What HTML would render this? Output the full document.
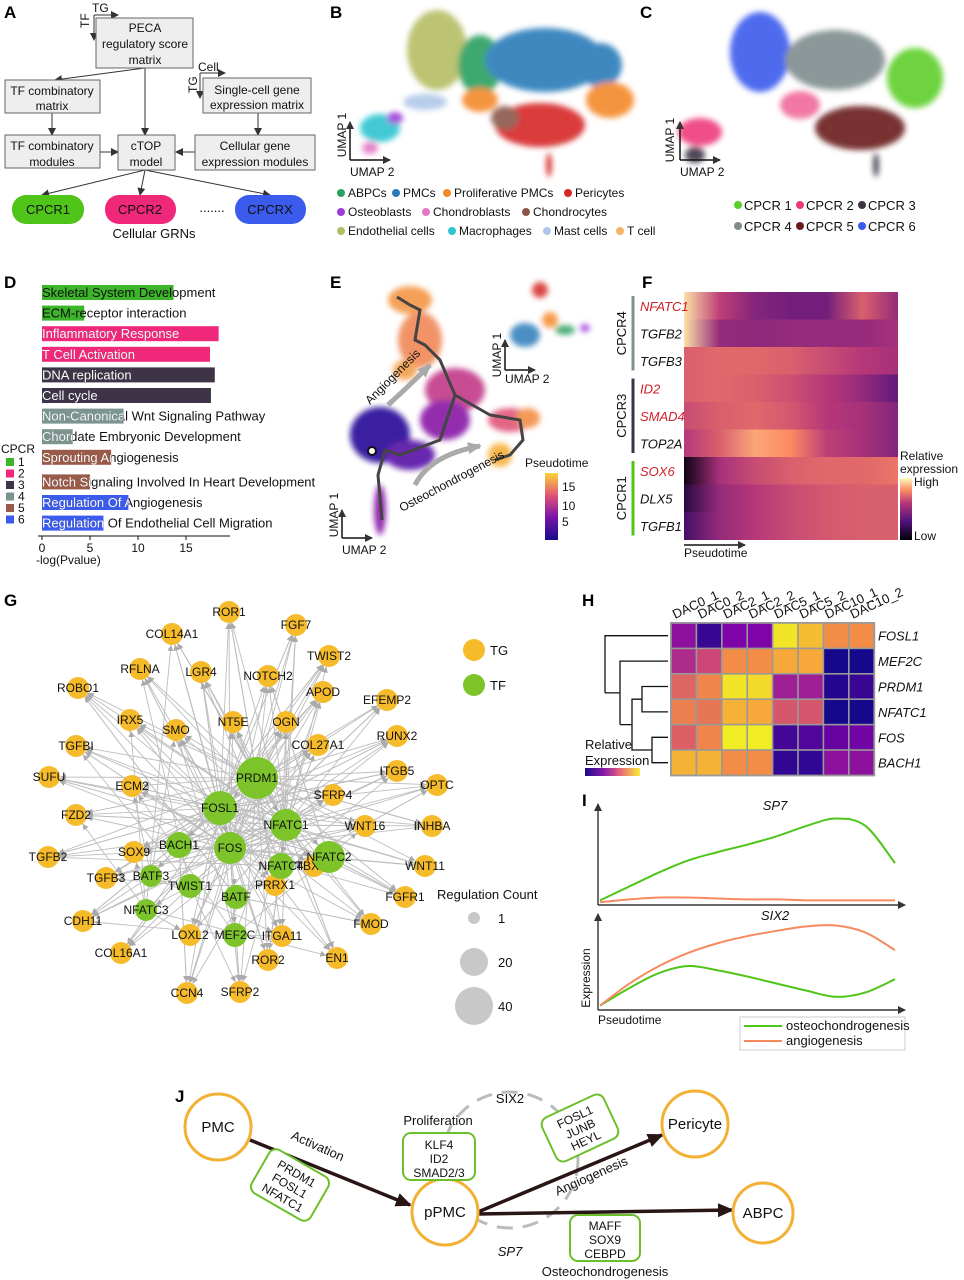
<!DOCTYPE html>
<html><head><meta charset="utf-8">
<style>
html,body{margin:0;padding:0;background:#fff;}
svg{display:block;font-family:"Liberation Sans",Arial,sans-serif;}
.pl{font-weight:bold;font-size:17px;}
.t{font-size:13px;fill:#111;}
.s{font-size:12px;fill:#111;}
</style></head>
<body>
<svg id="fig" width="964" height="1280" viewBox="0 0 964 1280">
<defs>
<marker id="ah" markerWidth="8" markerHeight="8" refX="7" refY="4" orient="auto" markerUnits="userSpaceOnUse"><path d="M0,0 L8,4 L0,8 z" fill="#333"/></marker>
<marker id="ahg" markerWidth="6" markerHeight="6" refX="6" refY="3" orient="auto" markerUnits="userSpaceOnUse"><path d="M0,0 L6,3 L0,6 z" fill="#aaa"/></marker>
<marker id="ahb" markerWidth="16" markerHeight="14" refX="14" refY="7" orient="auto" markerUnits="userSpaceOnUse"><path d="M0,0 L16,7 L0,14 z" fill="#2a1515"/></marker>
<marker id="ahgr" markerWidth="14" markerHeight="12" refX="12" refY="6" orient="auto" markerUnits="userSpaceOnUse"><path d="M0,0 L14,6 L0,12 z" fill="#aaa"/></marker>
<linearGradient id="ptGrad" x1="0" y1="1" x2="0" y2="0"><stop offset="0" stop-color="#1a0a8c"/><stop offset="0.35" stop-color="#7b16a8"/><stop offset="0.65" stop-color="#de4f78"/><stop offset="1" stop-color="#fbd33a"/></linearGradient>
<linearGradient id="magGrad" x1="0" y1="1" x2="0" y2="0"><stop offset="0" stop-color="#000004"/><stop offset="0.3" stop-color="#51127c"/><stop offset="0.6" stop-color="#b73779"/><stop offset="0.8" stop-color="#fc8961"/><stop offset="1" stop-color="#fcfdbf"/></linearGradient>
<linearGradient id="plasGrad" x1="0" y1="0" x2="1" y2="0"><stop offset="0" stop-color="#1a0a8c"/><stop offset="0.35" stop-color="#8a1aa8"/><stop offset="0.65" stop-color="#e8687a"/><stop offset="1" stop-color="#f7f03a"/></linearGradient>
<filter id="blur"><feGaussianBlur stdDeviation="3"/></filter>
</defs>

<!-- ===== Panel A ===== -->
<g>
<text class="pl" x="4" y="18">A</text>
<g stroke="#333" fill="none" stroke-width="1">
<line x1="94" y1="15" x2="118" y2="15" marker-end="url(#ah)"/><line x1="94" y1="15" x2="94" y2="40" marker-end="url(#ah)"/>
<line x1="200" y1="73" x2="225" y2="73" marker-end="url(#ah)"/><line x1="200" y1="73" x2="200" y2="98" marker-end="url(#ah)"/>
<line x1="145" y1="68" x2="55" y2="80" marker-end="url(#ah)"/>
<line x1="145" y1="68" x2="145" y2="135" marker-end="url(#ah)"/>
<line x1="52" y1="113" x2="52" y2="135" marker-end="url(#ah)"/>
<line x1="258" y1="113" x2="258" y2="135" marker-end="url(#ah)"/>
<line x1="100" y1="152" x2="118" y2="152" marker-end="url(#ah)"/>
<line x1="195" y1="152" x2="176" y2="152" marker-end="url(#ah)"/>
<line x1="145" y1="170" x2="42" y2="195" marker-end="url(#ah)"/>
<line x1="145" y1="170" x2="140" y2="195" marker-end="url(#ah)"/>
<line x1="145" y1="170" x2="270" y2="195" marker-end="url(#ah)"/>
</g>
<text class="s" x="92" y="12">TG</text><text class="s" transform="translate(89,28) rotate(-90)">TF</text>
<text class="s" x="198" y="71">Cell</text><text class="s" transform="translate(197,93) rotate(-90)">TG</text>
<g fill="#eeeeee" stroke="#666" stroke-width="1">
<rect x="96" y="18" width="97" height="50"/>
<rect x="5" y="80" width="95" height="33"/>
<rect x="203" y="78" width="108" height="35"/>
<rect x="5" y="135" width="95" height="33"/>
<rect x="118" y="135" width="57" height="35"/>
<rect x="195" y="135" width="120" height="35"/>
</g>
<g class="s" text-anchor="middle">
<text x="145" y="32">PECA</text><text x="145" y="48">regulatory score</text><text x="145" y="64">matrix</text>
<text x="52" y="95">TF combinatory</text><text x="52" y="110">matrix</text>
<text x="257" y="94">Single-cell gene</text><text x="257" y="109">expression matrix</text>
<text x="52" y="150">TF combinatory</text><text x="52" y="166">modules</text>
<text x="146" y="150">cTOP</text><text x="146" y="166">model</text>
<text x="255" y="150">Cellular gene</text><text x="255" y="166">expression modules</text>
</g>
<rect x="12" y="195" width="72" height="29" rx="14" fill="#4fc51a"/>
<rect x="105" y="195" width="71" height="29" rx="14" fill="#f0287a"/>
<rect x="235" y="195" width="71" height="29" rx="14" fill="#3b5bed"/>
<g class="t" text-anchor="middle"><text x="48" y="214">CPCR1</text><text x="140" y="214">CPCR2</text><text x="270" y="214">CPCRX</text>
<text x="212" y="212">.......</text><text x="154" y="238">Cellular GRNs</text></g>
</g>

<!-- ===== Panel B ===== -->
<g>
<text class="pl" x="330" y="18">B</text>
<g filter="url(#blur)" opacity="0.9">
<ellipse cx="437" cy="50" rx="30" ry="40" fill="#b5bd64"/>
<ellipse cx="480" cy="65" rx="22" ry="30" fill="#2aa060"/>
<ellipse cx="545" cy="60" rx="60" ry="32" fill="#2b7bb9"/>
<ellipse cx="600" cy="65" rx="22" ry="22" fill="#2b7bb9"/>
<ellipse cx="610" cy="100" rx="24" ry="18" fill="#f5892a"/>
<ellipse cx="480" cy="100" rx="18" ry="12" fill="#f5892a"/>
<ellipse cx="540" cy="125" rx="45" ry="22" fill="#d62728"/>
<ellipse cx="505" cy="118" rx="14" ry="12" fill="#8c564b"/>
<ellipse cx="425" cy="102" rx="22" ry="8" fill="#aec7e8"/>
<ellipse cx="380" cy="128" rx="20" ry="14" fill="#2ec4d0"/>
<ellipse cx="370" cy="148" rx="8" ry="6" fill="#e377c2"/>
<ellipse cx="395" cy="118" rx="8" ry="6" fill="#9b3bd8"/>
<ellipse cx="549" cy="165" rx="3" ry="12" fill="#d62728"/>
</g>
<g stroke="#111" stroke-width="1.5" fill="none"><line x1="350" y1="160" x2="350" y2="122" marker-end="url(#ah)"/><line x1="350" y1="160" x2="390" y2="160" marker-end="url(#ah)"/></g>
<text class="s" transform="translate(346,135) rotate(-90)" text-anchor="middle">UMAP 1</text>
<text class="s" x="350" y="176">UMAP 2</text>
<g class="s">
<circle cx="341" cy="193" r="4" fill="#2aa060"/><text x="348" y="197">ABPCs</text>
<circle cx="396" cy="193" r="4" fill="#2b7bb9"/><text x="403" y="197">PMCs</text>
<circle cx="447" cy="193" r="4" fill="#f5892a"/><text x="454" y="197">Proliferative PMCs</text>
<circle cx="568" cy="193" r="4" fill="#d62728"/><text x="575" y="197">Pericytes</text>
<circle cx="341" cy="212" r="4" fill="#9b3bd8"/><text x="348" y="216">Osteoblasts</text>
<circle cx="426" cy="212" r="4" fill="#e377c2"/><text x="433" y="216">Chondroblasts</text>
<circle cx="526" cy="212" r="4" fill="#8c564b"/><text x="533" y="216">Chondrocytes</text>
<circle cx="341" cy="231" r="4" fill="#b5bd64"/><text x="348" y="235">Endothelial cells</text>
<circle cx="452" cy="231" r="4" fill="#2ec4d0"/><text x="459" y="235">Macrophages</text>
<circle cx="547" cy="231" r="4" fill="#aec7e8"/><text x="554" y="235">Mast cells</text>
<circle cx="620" cy="231" r="4" fill="#f7b26a"/><text x="627" y="235">T cell</text>
</g></g>

<!-- ===== Panel C ===== -->
<g>
<text class="pl" x="640" y="18">C</text>
<g filter="url(#blur)" opacity="0.9">
<ellipse cx="760" cy="52" rx="30" ry="40" fill="#3b5bed"/>
<ellipse cx="835" cy="60" rx="50" ry="30" fill="#7f8c8d"/>
<ellipse cx="915" cy="78" rx="28" ry="30" fill="#5ecf2a"/>
<ellipse cx="860" cy="128" rx="45" ry="22" fill="#6b1a1a"/>
<ellipse cx="800" cy="105" rx="20" ry="14" fill="#f06a9a"/>
<ellipse cx="700" cy="132" rx="22" ry="14" fill="#ee3a7a"/>
<ellipse cx="695" cy="155" rx="10" ry="8" fill="#3d3447"/>
<ellipse cx="876" cy="165" rx="3" ry="12" fill="#3d3447"/>
</g>
<g stroke="#111" stroke-width="1.5" fill="none"><line x1="680" y1="160" x2="680" y2="122" marker-end="url(#ah)"/><line x1="680" y1="160" x2="720" y2="160" marker-end="url(#ah)"/></g>
<text class="s" transform="translate(674,140) rotate(-90)" text-anchor="middle">UMAP 1</text>
<text class="s" x="680" y="176">UMAP 2</text>
<g class="t">
<circle cx="738" cy="205" r="4" fill="#5ecf2a"/><text x="744" y="210">CPCR 1</text>
<circle cx="800" cy="205" r="4" fill="#ee3a7a"/><text x="806" y="210">CPCR 2</text>
<circle cx="862" cy="205" r="4" fill="#3d3447"/><text x="868" y="210">CPCR 3</text>
<circle cx="738" cy="226" r="4" fill="#7f8c8d"/><text x="744" y="231">CPCR 4</text>
<circle cx="800" cy="226" r="4" fill="#6b1a1a"/><text x="806" y="231">CPCR 5</text>
<circle cx="862" cy="226" r="4" fill="#3b5bed"/><text x="868" y="231">CPCR 6</text>
</g></g>

<!-- ===== Panel D ===== -->
<g id="panelD">
<text class="pl" x="4" y="288">D</text>
</g>

<!-- ===== Panel E ===== -->
<g>
<text class="pl" x="330" y="288">E</text>
<g filter="url(#blur)" opacity="0.92">
<ellipse cx="410" cy="300" rx="22" ry="14" fill="#f4994a"/>
<ellipse cx="420" cy="340" rx="22" ry="28" fill="#f08a5a"/>
<ellipse cx="405" cy="370" rx="12" ry="10" fill="#f3a050"/>
<ellipse cx="455" cy="390" rx="30" ry="22" fill="#c33c8a"/>
<ellipse cx="445" cy="420" rx="25" ry="20" fill="#8a1aa8"/>
<ellipse cx="380" cy="435" rx="30" ry="28" fill="#2a0f9a"/>
<ellipse cx="410" cy="455" rx="25" ry="15" fill="#5a12a8"/>
<ellipse cx="510" cy="420" rx="22" ry="12" fill="#e0587a"/>
<ellipse cx="528" cy="418" rx="12" ry="10" fill="#f3904a"/>
<ellipse cx="500" cy="455" rx="12" ry="12" fill="#f7b040"/>
<ellipse cx="380" cy="510" rx="6" ry="25" fill="#8a1aa8"/>
</g>
<path d="M397,297 L410,305 L420,310 L415,340 L425,345 L440,360 L455,395 L490,415 L520,420 L523,440 L510,455 L495,460 M455,395 L440,440 L400,455 L385,450 L378,475 L382,520" fill="none" stroke="#444" stroke-width="3"/>
<circle cx="372" cy="451" r="4" fill="#fff" stroke="#111" stroke-width="2"/>
<path d="M388,405 Q410,385 430,365" fill="none" stroke="#aaa" stroke-width="5" marker-end="url(#ahgr)"/>
<path d="M415,485 Q430,455 480,446" fill="none" stroke="#aaa" stroke-width="5" marker-end="url(#ahgr)"/>
<text class="s" transform="translate(370,405) rotate(-45)">Angiogenesis</text>
<text class="s" transform="translate(402,512) rotate(-28)">Osteochondrogenesis</text>
<g filter="url(#blur)" opacity="0.85"><ellipse cx="540" cy="290" rx="8" ry="8" fill="#d62728"/><ellipse cx="525" cy="335" rx="15" ry="12" fill="#2b7bb9"/><ellipse cx="550" cy="320" rx="8" ry="8" fill="#f5892a"/><ellipse cx="565" cy="330" rx="10" ry="5" fill="#2aa060"/><ellipse cx="585" cy="328" rx="5" ry="4" fill="#9b3bd8"/></g>
<g stroke="#111" stroke-width="1.5" fill="none"><line x1="505" y1="370" x2="505" y2="340" marker-end="url(#ah)"/><line x1="505" y1="370" x2="535" y2="370" marker-end="url(#ah)"/>
<line x1="342" y1="538" x2="342" y2="510" marker-end="url(#ah)"/><line x1="342" y1="538" x2="372" y2="538" marker-end="url(#ah)"/></g>
<text class="s" transform="translate(501,355) rotate(-90)" text-anchor="middle">UMAP 1</text><text class="s" x="505" y="383">UMAP 2</text>
<text class="s" transform="translate(338,515) rotate(-90)" text-anchor="middle">UMAP 1</text><text class="s" x="342" y="554">UMAP 2</text>
<text class="s" x="525" y="467">Pseudotime</text>
<rect x="545" y="473" width="13" height="67" fill="url(#ptGrad)"/>
<g class="s"><text x="562" y="491">15</text><text x="562" y="510">10</text><text x="562" y="526">5</text></g>
</g>

<!-- ===== Panel F ===== -->
<g id="panelF">
<text class="pl" x="642" y="288">F</text>
</g>

<!-- ===== Panel G ===== -->
<g id="panelG">
<text class="pl" x="4" y="606">G</text>
</g>

<!-- ===== Panel H ===== -->
<g id="panelH">
<text class="pl" x="582" y="606">H</text>
</g>

<!-- ===== Panel I ===== -->
<g id="panelI">
<text class="pl" x="582" y="806">I</text>
</g>

<!-- ===== Panel J ===== -->
<g>
<text class="pl" x="175" y="1102">J</text>
<circle cx="510" cy="1160" r="68" fill="none" stroke="#bbb" stroke-width="3" stroke-dasharray="16,10"/>
<line x1="250" y1="1140" x2="410" y2="1205" stroke="#2a1515" stroke-width="3.5" marker-end="url(#ahb)"/>
<line x1="478" y1="1212" x2="662" y2="1135" stroke="#2a1515" stroke-width="3.5" marker-end="url(#ahb)"/>
<line x1="478" y1="1214" x2="732" y2="1210" stroke="#2a1515" stroke-width="3.5" marker-end="url(#ahb)"/>
<g fill="#fff" stroke="#f2b134" stroke-width="3">
<circle cx="218" cy="1127" r="33"/>
<circle cx="445" cy="1212" r="33"/>
<circle cx="695" cy="1124" r="33"/>
<circle cx="763" cy="1213" r="30"/>
</g>
<g class="t" text-anchor="middle" style="font-size:15px"><text x="218" y="1132">PMC</text><text x="445" y="1217">pPMC</text><text x="695" y="1129">Pericyte</text><text x="763" y="1218">ABPC</text></g>
<g fill="#fff" stroke="#6cbf2a" stroke-width="2">
<rect x="-34" y="-25" width="68" height="50" rx="8" transform="translate(290,1185) rotate(30)"/>
<rect x="403" y="1133" width="72" height="47" rx="8"/>
<rect x="-34" y="-24" width="68" height="48" rx="8" transform="translate(580,1128) rotate(-25)"/>
<rect x="570" y="1215" width="70" height="46" rx="8"/>
</g>
<g class="s" text-anchor="middle">
<g transform="translate(290,1185) rotate(30)"><text y="-9">PRDM1</text><text y="5">FOSL1</text><text y="19">NFATC1</text></g>
<text x="439" y="1149">KLF4</text><text x="439" y="1163">ID2</text><text x="439" y="1177">SMAD2/3</text>
<g transform="translate(580,1128) rotate(-25)"><text y="-8">FOSL1</text><text y="5">JUNB</text><text y="18">HEYL</text></g>
<text x="605" y="1230">MAFF</text><text x="605" y="1244">SOX9</text><text x="605" y="1258">CEBPD</text>
<text x="438" y="1125" class="t">Proliferation</text>
<text x="510" y="1103" class="t">SIX2</text>
<text x="510" y="1256" class="t" font-style="italic">SP7</text>
<text x="605" y="1276" class="t">Osteochondrogenesis</text>
<text class="t" transform="translate(316,1150) rotate(24)">Activation</text>
<text class="t" transform="translate(593,1180) rotate(-24)">Angiogenesis</text>
</g>
</g>
</svg>

<script>
const NS="http://www.w3.org/2000/svg";
function mk(tag,attrs,parent,txt){const e=document.createElementNS(NS,tag);for(const k in attrs)e.setAttribute(k,attrs[k]);if(txt!==undefined)e.textContent=txt;parent.appendChild(e);return e;}

/* ---------- Panel D: bar chart ---------- */
const dTerms=["Skeletal System Development","ECM-receptor interaction","Inflammatory Response","T Cell Activation","DNA replication","Cell cycle","Non-Canonical Wnt Signaling Pathway","Chordate Embryonic Development","Sprouting Angiogenesis","Notch Signaling Involved In Heart Development","Regulation Of Angiogenesis","Regulation Of Endothelial Cell Migration"];
const dValues=[13.7,4.4,18.4,17.5,18.0,17.6,8.5,3.2,7.2,5.0,9.0,6.4];
const dGroups=[1,1,2,2,3,3,4,4,5,5,6,6];
const dTicks=[0,5,10,15];
const cpcrColors={1:"#3db52a",2:"#f0287a",3:"#3d3447",4:"#7b9490",5:"#9a5a4a",6:"#3b5bed"};
(function(){
 const g=document.getElementById('panelD');
 const defs=document.querySelector('defs');
 const x=v=>42+v*9.6;
 const rowY=i=>292+i*20.6+(i>=9?4:0);
 dTerms.forEach((t,i)=>{
  const w=x(dValues[i])-x(0);
  const r=mk('rect',{x:x(0),y:rowY(i)-7,width:w,height:15,fill:cpcrColors[dGroups[i]]},g);
  
  
  const tx=mk('text',{x:42,y:rowY(i)+5,class:'t'},g,t);
  
  
  if(dGroups[i]!==1){
   const cp=mk('clipPath',{id:'dclip'+i},defs);
   mk('rect',{x:x(0),y:rowY(i)-7,width:w,height:15},cp);
   mk('text',{x:42,y:rowY(i)+5,class:'t',style:'fill:#fff','clip-path':'url(#dclip'+i+')'},g,t);
  }
 });
 const ax=mk('line',{x1:38,y1:536,x2:230,y2:536,stroke:'#111','stroke-width':1},g);
 
 
 dTicks.forEach(v=>{mk('line',{x1:x(v),y1:536,x2:x(v),y2:540,stroke:'#111'},g);mk('text',{x:x(v),y:552,class:'s','text-anchor':'middle'},g,String(v));});
 const xt=mk('text',{x:36,y:564,class:'s'},g,'-log(Pvalue)');
 
 
 mk('text',{x:1,y:453,class:'s'},g,'CPCR');
 [1,2,3,4,5,6].forEach((k,i)=>{mk('rect',{x:6,y:458+i*11.5,width:8,height:8,fill:cpcrColors[k]},g);mk('text',{x:18,y:466+i*11.5,class:'s'},g,String(k));});
})();

/* ---------- Panel F: pseudotime heatmap ---------- */
const fGenes=["NFATC1","TGFB2","TGFB3","ID2","SMAD4","TOP2A","SOX6","DLX5","TGFB1"];
const fRed=[true,false,false,true,true,false,true,false,false];
const fRows=[[0.95,0.62,0.45,0.4,0.4,0.7,0.5],[0.95,0.5,0.48,0.5,0.5,0.5,0.55],[0.7,0.72,0.72,0.7,0.65,0.6,0.55],[0.7,0.72,0.7,0.66,0.6,0.5,0.35],[0.65,0.7,0.72,0.68,0.6,0.55,0.45],[0.6,0.7,0.85,0.8,0.62,0.55,0.45],[0.05,0.55,0.65,0.7,0.72,0.72,0.75],[0.15,0.5,0.6,0.65,0.68,0.7,0.7],[0.25,0.5,0.6,0.65,0.68,0.7,0.7]];
function magma(t){const s=[[0,[0,0,4]],[0.3,[81,18,124]],[0.6,[183,55,121]],[0.8,[252,137,97]],[1,[252,253,191]]];for(let i=1;i<s.length;i++){if(t<=s[i][0]){const a=s[i-1],b=s[i],f=(t-a[0])/(b[0]-a[0]);return 'rgb('+a[1].map((c,j)=>Math.round(c+(b[1][j]-c)*f)).join(',')+')';}}return 'rgb(252,253,191)';}
(function(){
 const g=document.getElementById('panelF');
 const defs=document.querySelector('defs');
 const x0=684,x1=898,y0=292,rh=27.5;
 fGenes.forEach((gn,i)=>{
  const lg=mk('linearGradient',{id:'fg'+i,x1:0,y1:0,x2:1,y2:0},defs);
  fRows[i].forEach((v,j)=>mk('stop',{offset:j/(fRows[i].length-1),'stop-color':magma(v)},lg));
  const r=mk('rect',{x:x0,y:y0+i*rh,width:x1-x0,height:rh+0.5,fill:'url(#fg'+i+')'},g);
  
  
  mk('text',{x:640,y:y0+i*rh+rh/2+5,class:'t','font-style':'italic',fill:fRed[i]?'#d0202a':'#111',style:fRed[i]?'fill:#d0202a':''},g,gn);
 });
 const grp=[["CPCR4","#7b9490",0],["CPCR3","#3d3447",3],["CPCR1","#4fc51a",6]];
 grp.forEach(([n,c,s])=>{mk('line',{x1:633,y1:y0+s*rh+4,x2:633,y2:y0+(s+3)*rh-4,stroke:c,'stroke-width':3},g);
  mk('text',{class:'t','text-anchor':'middle',transform:'translate(626,'+(y0+(s+1.5)*rh)+') rotate(-90)'},g,n);});
 mk('rect',{x:900,y:478,width:12,height:62,fill:'url(#magGrad)'},g);
 mk('text',{x:900,y:460,class:'s'},g,'Relative');mk('text',{x:900,y:473,class:'s'},g,'expression');
 mk('text',{x:914,y:486,class:'s'},g,'High');mk('text',{x:914,y:540,class:'s'},g,'Low');
 mk('line',{x1:684,y1:545,x2:745,y2:545,stroke:'#111','stroke-width':1.5,'marker-end':'url(#ah)'},g);
 mk('text',{x:684,y:557,class:'s'},g,'Pseudotime');
})();

/* ---------- Panel G: network ---------- */
const tgNodes=[["ROR1",229,612],["FGF7",296,625],["COL14A1",172,634],["TWIST2",329,656],["RFLNA",140,669],["LGR4",201,672],["NOTCH2",268,676],["APOD",323,692],["EFEMP2",387,700],["ROBO1",78,688],["IRX5",130,720],["SMO",176,730],["NT5E",233,722],["OGN",286,722],["COL27A1",318,745],["RUNX2",397,736],["TGFBI",76,746],["ITGB5",397,771],["SUFU",49,777],["ECM2",132,786],["SFRP4",333,795],["OPTC",437,785],["FZD2",76,815],["WNT16",365,826],["INHBA",432,826],["TGFB2",48,857],["SOX9",134,852],["WNT11",425,866],["TGFB3",106,878],["TBX15",314,866],["FGFR1",405,897],["CDH11",83,921],["PRRX1",275,885],["FMOD",371,924],["LOXL2",190,935],["ITGA11",282,936],["COL16A1",121,953],["ROR2",268,960],["EN1",337,958],["CCN4",187,993],["SFRP2",240,992]];
const tfNodes=[["PRDM1",257,778,21],["FOSL1",220,808,17],["NFATC1",286,825,16],["BACH1",179,845,13],["FOS",230,848,16],["NFATC4",281,866,13],["NFATC2",329,857,16],["BATF3",151,876,11],["TWIST1",190,886,12],["BATF",236,897,12],["NFATC3",146,910,11],["MEF2C",235,935,12]];
(function(){
 const g=document.getElementById('panelG');
 const eg=mk('g',{stroke:'#bdbdbd','stroke-width':0.9},g);
 function edge(a,b,ra,rb){const dx=b[1]-a[1],dy=b[2]-a[2],d=Math.hypot(dx,dy)||1;
  mk('line',{x1:a[1]+dx/d*ra,y1:a[2]+dy/d*ra,x2:b[1]-dx/d*rb,y2:b[2]-dy/d*rb,'marker-end':'url(#ahg)'},eg);}
 tgNodes.forEach((t,i)=>{[0,1,2,4,(i%12),((i*5)%12)].forEach(k=>edge(tfNodes[k],t,tfNodes[k][3],11));});
 [[0,1],[0,2],[1,4],[0,3],[2,5],[0,6],[1,3],[4,9],[3,7],[8,10],[4,11],[6,5]].forEach(([a,b])=>edge(tfNodes[a],tfNodes[b],tfNodes[a][3],tfNodes[b][3]));
 tgNodes.forEach(t=>{const c=mk('circle',{cx:t[1],cy:t[2],r:11,fill:'#f6bb2a'},g);
  
  
  mk('text',{x:t[1],y:t[2]+4,class:'s','text-anchor':'middle'},g,t[0]);});
 tfNodes.forEach(t=>{const c=mk('circle',{cx:t[1],cy:t[2],r:t[3],fill:'#7cc42a'},g);
  
  
  mk('text',{x:t[1],y:t[2]+4,class:'s','text-anchor':'middle'},g,t[0]);});
 mk('circle',{cx:474,cy:650,r:11,fill:'#f6bb2a'},g);mk('text',{x:490,y:655,class:'t'},g,'TG');
 mk('circle',{cx:474,cy:685,r:11,fill:'#7cc42a'},g);mk('text',{x:490,y:690,class:'t'},g,'TF');
 mk('text',{x:437,y:899,class:'t'},g,'Regulation Count');
 [[918,6,'1'],[962,14,'20'],[1006,19,'40']].forEach(([y,r,l])=>{mk('circle',{cx:474,cy:y,r:r,fill:'#c8c8c8'},g);mk('text',{x:498,y:y+5,class:'t'},g,l);});
})();

/* ---------- Panel H: heatmap ---------- */
const hCols=["DAC0_1","DAC0_2","DAC2_1","DAC2_2","DAC5_1","DAC5_2","DAC10_1","DAC10_2"];
const hRows=["FOSL1","MEF2C","PRDM1","NFATC1","FOS","BACH1"];
const hVals=[[0.3,0.1,0.25,0.25,0.95,0.85,0.72,0.72],[0.4,0.5,0.72,0.72,0.8,0.8,0.02,0.02],[0.6,0.7,0.95,0.92,0.35,0.35,0.05,0.1],[0.68,0.65,0.82,0.8,0.55,0.55,0.02,0.02],[0.58,0.7,0.97,0.97,0.12,0.15,0.2,0.22],[0.82,0.82,0.72,0.72,0.08,0.08,0.3,0.3]];
function plasma(t){const s=[[0,[13,8,135]],[0.25,[126,3,168]],[0.5,[204,71,120]],[0.75,[248,149,64]],[1,[240,249,33]]];for(let i=1;i<s.length;i++){if(t<=s[i][0]){const a=s[i-1],b=s[i],f=(t-a[0])/(b[0]-a[0]);return 'rgb('+a[1].map((c,j)=>Math.round(c+(b[1][j]-c)*f)).join(',')+')';}}return 'rgb(240,249,33)';}
(function(){
 const g=document.getElementById('panelH');
 const x0=671,y0=623,cw=25.4,rh=25.4;
 mk('rect',{x:x0-1,y:y0-1,width:cw*8+2,height:rh*6+2,fill:'#999'},g);
 hRows.forEach((rn,i)=>{hCols.forEach((cn,j)=>{
  const r=mk('rect',{x:x0+j*cw+0.8,y:y0+i*rh+0.8,width:cw-1.6,height:rh-1.6,fill:plasma(hVals[i][j])},g);
  
  });
  mk('text',{x:878,y:y0+i*rh+rh/2+5,class:'t','font-style':'italic'},g,rn);});
 hCols.forEach((cn,j)=>mk('text',{class:'t',transform:'translate('+(x0+j*cw+4)+','+(y0-4)+') rotate(-25)'},g,cn));
 const Y=i=>y0+i*rh+rh/2;
 const m1=(Y(2)+Y(3))/2,m2=(Y(4)+Y(5))/2,m12=(m1+m2)/2,mm=(Y(1)+m12)/2,mr=(Y(0)+mm)/2;
 const d=`M668,${Y(2)}H642V${Y(3)}H668 M668,${Y(4)}H652V${Y(5)}H668 M642,${m1}H632V${m2}H652 M632,${m12}H620 M668,${Y(1)}H620V${m12} M620,${mm}H605 M668,${Y(0)}H605V${mm}`;
 const dp=mk('path',{d:d,fill:'none',stroke:'#111','stroke-width':1.3},g);
 
 
 mk('text',{x:585,y:749,class:'t'},g,'Relative');mk('text',{x:585,y:765,class:'t'},g,'Expression');
 mk('rect',{x:585,y:768,width:55,height:8,fill:'url(#plasGrad)'},g);
})();

/* ---------- Panel I: line plots ---------- */
const iPts=[0,0.1,0.2,0.3,0.4,0.5,0.6,0.7,0.8,0.9,1];
const sp7Osteo=[0.05,0.2,0.35,0.48,0.57,0.65,0.74,0.85,0.93,0.85,0.45];
const sp7Angio=[0.03,0.06,0.08,0.08,0.07,0.06,0.06,0.05,0.05,0.05,0.05];
const six2Osteo=[0.05,0.25,0.42,0.5,0.45,0.38,0.3,0.22,0.15,0.2,0.35];
const six2Angio=[0.05,0.3,0.5,0.65,0.76,0.84,0.9,0.95,0.96,0.88,0.68];
(function(){
 const g=document.getElementById('panelI');
 function plot(top,bot,title,osteo,angio){
  const x=t=>600+t*295,y=v=>bot-v*(bot-top);
  mk('line',{x1:598,y1:bot,x2:598,y2:top-8,stroke:'#111','stroke-width':1.2,'marker-end':'url(#ah)'},g);
  mk('line',{x1:598,y1:bot,x2:905,y2:bot,stroke:'#111','stroke-width':1.2,'marker-end':'url(#ah)'},g);
  mk('text',{x:775,y:top-2,class:'t','font-style':'italic','text-anchor':'middle'},g,title);
  [[osteo,'#4fc51a','osteo'],[angio,'#f58a5e','angio']].forEach(([arr,c,n])=>{
   const P=iPts.map((t,i)=>[x(t),y(arr[i])]);let d='M'+P[0];
   for(let i=0;i<P.length-1;i++){const p0=P[Math.max(0,i-1)],p1=P[i],p2=P[i+1],p3=P[Math.min(P.length-1,i+2)];
    d+=` C${p1[0]+(p2[0]-p0[0])/6},${p1[1]+(p2[1]-p0[1])/6} ${p2[0]-(p3[0]-p1[0])/6},${p2[1]-(p3[1]-p1[1])/6} ${p2[0]},${p2[1]}`;}
   const l=mk('path',{d:d,fill:'none',stroke:c,'stroke-width':2},g);
   
   });
 }
 plot(812,905,'SP7',sp7Osteo,sp7Angio);
 plot(922,1010,'SIX2',six2Osteo,six2Angio);
 mk('text',{class:'s','text-anchor':'middle',transform:'translate(590,978) rotate(-90)'},g,'Expression');
 mk('text',{x:598,y:1024,class:'s'},g,'Pseudotime');
 const lb=mk('rect',{x:740,y:1017,width:165,height:33,fill:'#fff',stroke:'#ccc'},g);
 
 
 mk('line',{x1:744,y1:1026,x2:782,y2:1026,stroke:'#4fc51a','stroke-width':2},g);mk('text',{x:786,y:1030,class:'t'},g,'osteochondrogenesis');
 mk('line',{x1:744,y1:1041,x2:782,y2:1041,stroke:'#f58a5e','stroke-width':2},g);mk('text',{x:786,y:1045,class:'t'},g,'angiogenesis');
})();
</script>
</body></html>
